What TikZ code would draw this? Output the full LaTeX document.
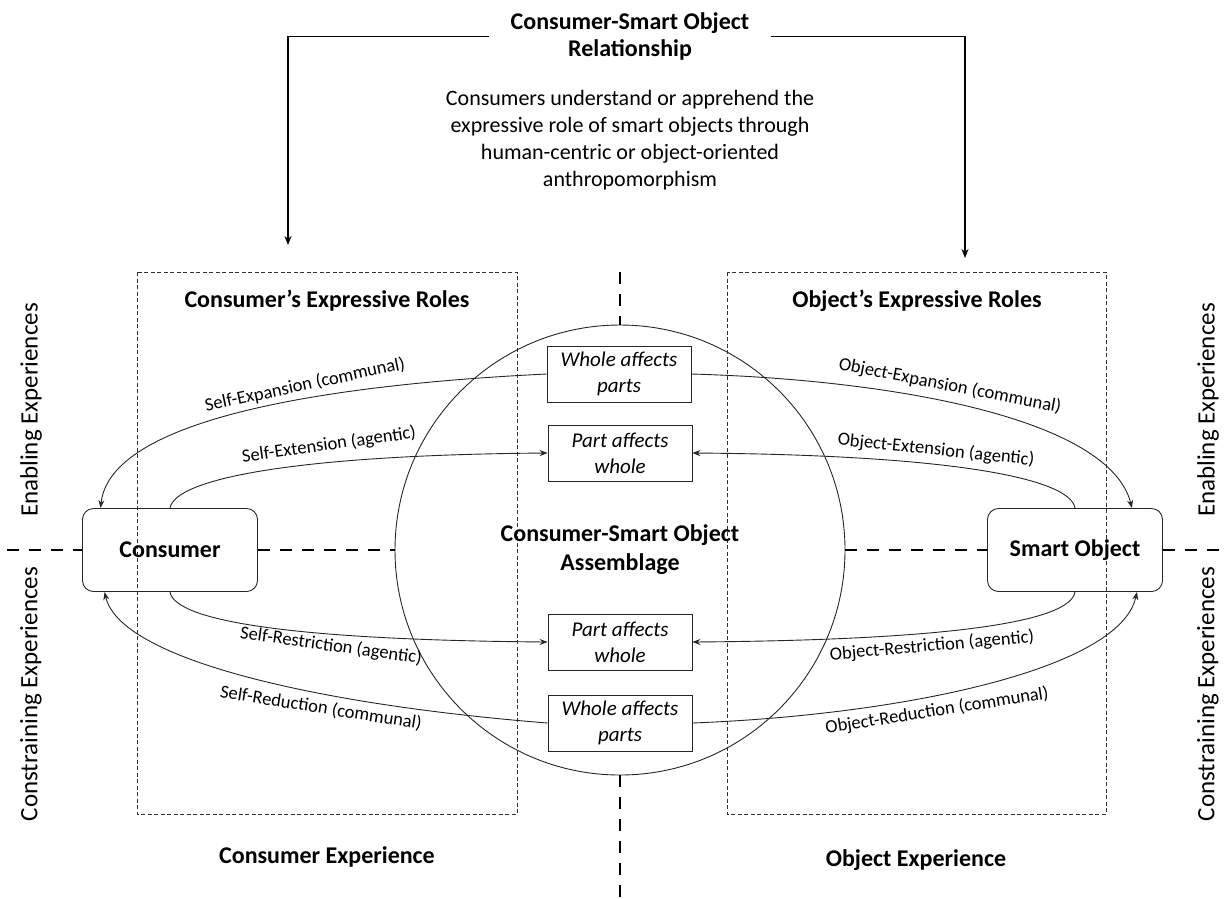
\documentclass[tikz,border=0pt]{standalone}
\usepackage{fontspec}
\setmainfont{Carlito}
\usetikzlibrary{arrows.meta}
\begin{document}
\begin{tikzpicture}[x=1pt,y=-1pt,
  boldtxt/.style={font=\fontsize{24}{27}\selectfont\bfseries, align=center, inner sep=0pt},
  desctxt/.style={font=\fontsize{22}{27}\selectfont, align=center, inner sep=0pt},
  curvelbl/.style={font=\fontsize{18.5}{22}\selectfont, inner sep=0pt},
  sidetxt/.style={font=\fontsize{25}{30}\selectfont, inner sep=0pt, rotate=90},
  mainbox/.style={draw=black!85, rounded corners=11pt, minimum width=175pt, minimum height=83pt, line width=0.9pt, font=\fontsize{24}{27}\selectfont\bfseries},
  effbox/.style={draw=black!85, minimum width=144pt, minimum height=56pt, line width=0.8pt, align=center, inner sep=0pt, font=\fontsize{21}{26}\selectfont\itshape},
  roleframe/.style={draw=black!80, line width=0.7pt, dash pattern=on 4pt off 2.5pt},
  axisline/.style={draw=black, line width=2.6pt, dash pattern=on 12pt off 10pt},
  conn/.style={draw=black!85, line width=0.9pt},
  tip/.style={-{Stealth[length=8pt,width=6pt]}},
  toparrow/.style={draw=black, line width=1.7pt, -{Stealth[length=9pt,width=7pt]}}
]
\useasboundingbox (0,0) rectangle (1225,898);

% role frames
\draw[roleframe] (137,272) rectangle (517,814);
\draw[roleframe] (727,272) rectangle (1106,814);

% circle (assemblage)
\node[circle, draw=black!85, line width=0.9pt, minimum size=450pt, inner sep=0pt] (asm) at (620,550) {};
\node[font=\fontsize{24}{29}\selectfont\bfseries, align=center, inner sep=0pt] (asml) at (620,550) {Consumer-Smart Object\\Assemblage};

% main boxes
\node[mainbox] (con) at (170,550) {Consumer};
\node[mainbox] (so) at (1075,550) {Smart Object};

% effect boxes
\node[effbox, fill=white] (b1) at (619,374) {Whole affects\\parts};
\node[effbox, fill=white] (b2) at (620,453) {Part affects\\whole};
\node[effbox, fill=white] (b3) at (620,642) {Part affects\\whole};
\node[effbox, fill=white] (b4) at (620,723) {Whole affects\\parts};

% axes
\coordinate (vtop) at (620,272);
\coordinate (vbot) at (620,898);
\coordinate (hl) at (7,550);
\coordinate (hr) at (1225,550);
\draw[axisline] (vtop) -- (asm.north);
\draw[axisline] (asm.south) -- (vbot);
\draw[axisline] (hl) -- (con.west);
\draw[axisline] (con.east) -- (asm.west);
\draw[axisline] (asm.east) -- (so.west);
\draw[axisline] (so.east) -- (hr);

% top relationship
\node[boldtxt, inner xsep=21pt] (rel) at (630,36.5) {Consumer-Smart Object\\Relationship};
\node[desctxt] (desc) at (630,140.5) {Consumers understand or apprehend the\\expressive role of smart objects through\\human-centric or object-oriented\\anthropomorphism};
\coordinate (ta1) at (288,245);
\coordinate (ta2) at (965,258);
\draw[toparrow] (rel.west) -| (ta1);
\draw[toparrow] (rel.east) -| (ta2);

% headers
\node[boldtxt] (hcon) at (327,301) {Consumer’s Expressive Roles};
\node[boldtxt] (hobj) at (917,301) {Object’s Expressive Roles};
\node[boldtxt] (fcon) at (327,857) {Consumer Experience};
\node[boldtxt] (fobj) at (916,860) {Object Experience};

% side labels
\node[sidetxt] (enl) at (31,410) {Enabling Experiences};
\node[sidetxt] (cnl) at (31,694) {Constraining Experiences};
\node[sidetxt] (enr) at (1208,410) {Enabling Experiences};
\node[sidetxt] (cnr) at (1208,694) {Constraining Experiences};

% consumer side curves
\draw[conn,tip] (b1.west) .. controls (320,385) and (110,420) .. ([xshift=18.5pt]con.north west);
\draw[conn,tip] (con.north) .. controls (175,478) and (300,455) .. (b2.west);
\draw[conn,tip] (con.south) .. controls (175,622) and (300,640) .. (b3.west);
\draw[conn,tip] (b4.west) .. controls (320,705) and (120,660) .. ([xshift=22.5pt]con.south west);

% object side curves
\draw[conn,tip] (b1.east) .. controls (900,380) and (1110,420) .. ([xshift=-31pt]so.north east);
\draw[conn,tip] (so.north) .. controls (1070,478) and (950,455) .. (b2.east);
\draw[conn,tip] (so.south) .. controls (1070,622) and (950,640) .. (b3.east);
\draw[conn,tip] (b4.east) .. controls (900,715) and (1120,670) .. ([xshift=-26pt]so.south east);

% curve labels
\node[curvelbl, rotate=12] (l1) at (305,385) {Self-Expansion (communal)};
\node[curvelbl, rotate=8] (l2) at (329,445) {Self-Extension (agentic)};
\node[curvelbl, rotate=-8] (l3) at (331,646) {Self-Restriction (agentic)};
\node[curvelbl, rotate=-9] (l4) at (321,708) {Self-Reduction (communal)};
\node[curvelbl, rotate=-11] (r1) at (950,386) {Object-Expansion (communal)};
\node[curvelbl, rotate=-6] (r2) at (936,450) {Object-Extension (agentic)};
\node[curvelbl, rotate=5] (r3) at (932,646) {Object-Restriction (agentic)};
\node[curvelbl, rotate=9] (r4) at (937,711) {Object-Reduction (communal)};
\end{tikzpicture}
\end{document}
